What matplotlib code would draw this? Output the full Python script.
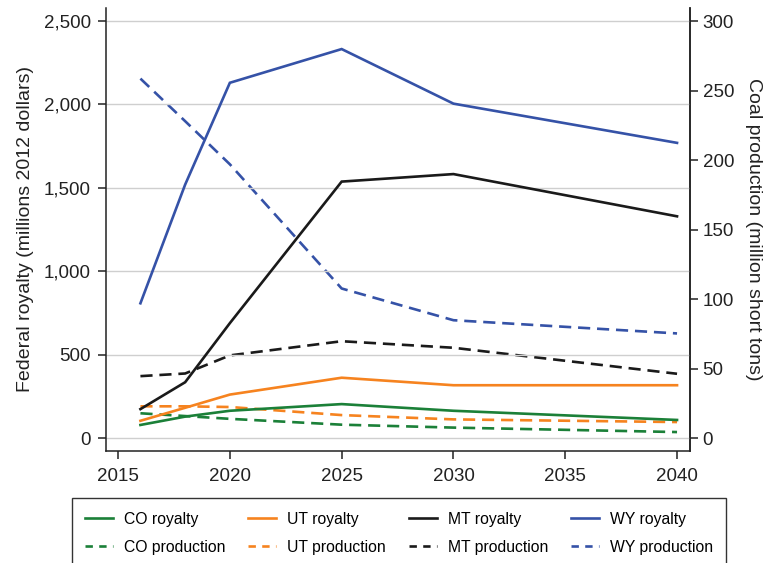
import matplotlib.pyplot as plt
from matplotlib.lines import Line2D
from matplotlib.patches import Rectangle
from matplotlib.ticker import FuncFormatter

plt.rcParams['font.family'] = ['Liberation Sans', 'DejaVu Sans']

years = [2016, 2018, 2020, 2025, 2030, 2040]

# federal royalty, millions of 2012 dollars
co_royalty = [80, 130, 165, 205, 165, 110]
ut_royalty = [105, 183, 262, 363, 318, 318]
mt_royalty = [175, 336, 690, 1538, 1583, 1330]
wy_royalty = [809, 1520, 2130, 2332, 2005, 1770]

# coal production, million short tons
co_production = [18, 16, 14, 9.8, 7.7, 4.5]
ut_production = [23, 23, 22.5, 16.7, 13.6, 11.7]
mt_production = [44.7, 46.6, 59.6, 69.8, 65.1, 46.4]
wy_production = [258.6, 228, 197, 107.7, 84.9, 75.4]

states = ["CO", "UT", "MT", "WY"]
colors = {"CO": "#1b8038", "UT": "#f6831f", "MT": "#1a1a1a", "WY": "#3552a7"}
royalty = {"CO": co_royalty, "UT": ut_royalty, "MT": mt_royalty, "WY": wy_royalty}
production = {"CO": co_production, "UT": ut_production, "MT": mt_production, "WY": wy_production}

fig = plt.figure(figsize=(7.7, 5.63), dpi=100)
ax = fig.add_axes([106 / 770, 1 - 451 / 563, (690 - 106) / 770, (451 - 8) / 563])
ax2 = ax.twinx()

lw = 1.9
dash = (4.6, 2.6)

for s in states:
    ax.plot(years, royalty[s], color=colors[s], lw=lw, solid_joinstyle="miter")
    ax2.plot(years, production[s], color=colors[s], lw=lw, dashes=dash)

ax.set_xlim(2014.46, 2040.58)
ax.set_ylim(-76, 2578)
ax2.set_ylim(-76 / (2500 / 300), 2578 / (2500 / 300))

ax.set_xticks(range(2015, 2041, 5))
ax.set_yticks(range(0, 2501, 500))
ax2.set_yticks(range(0, 301, 50))
ax.yaxis.set_major_formatter(FuncFormatter(lambda v, p: f"{int(v):,}"))

ax.grid(axis="y", color="#cfcfcf", lw=1)
ax.set_axisbelow(True)
ax.set_zorder(ax2.get_zorder() + 1)
ax.patch.set_visible(False)

for a in (ax, ax2):
    a.spines["top"].set_visible(False)
    for sp in a.spines.values():
        sp.set_linewidth(1.1)
        sp.set_color("#222222")

ax.tick_params(axis="both", labelsize=13.5, length=6, width=1.1, colors="#222222")
ax.tick_params(axis="x", pad=6)
ax.tick_params(axis="y", pad=5)
ax2.tick_params(axis="y", labelsize=13.5, length=6, width=1.1, pad=3, colors="#222222")
ax2.spines["left"].set_visible(False)
ax2.spines["bottom"].set_visible(False)

ax.set_ylabel("Federal royalty (millions 2012 dollars)", fontsize=14, color="#222222", labelpad=7)
ax2.set_ylabel("Coal production (million short tons)", fontsize=14, color="#222222",
               rotation=270, labelpad=20)

# legend frame runs off the bottom edge
fig.patches.append(Rectangle((72 / 770, -0.05), (726 - 72) / 770, (563 - 498) / 563 + 0.05,
                             transform=fig.transFigure, fill=False, lw=1.0,
                             edgecolor="#333333"))

handles, labels = [], []
for s in states:
    handles.append(Line2D([], [], color=colors[s], lw=lw))
    labels.append(f"{s} royalty")
    handles.append(Line2D([], [], color=colors[s], lw=lw, dashes=(2.8, 2.4)))
    labels.append(f"{s} production")

fig.legend(handles, labels, ncol=4, loc="upper left", bbox_to_anchor=(72 / 770, 1 - 499 / 563),
           frameon=False, fontsize=11.3, handlelength=1.8, handletextpad=0.7,
           columnspacing=1.45, labelspacing=0.85, borderpad=0.3)

fig.savefig("out.png", dpi=100)
